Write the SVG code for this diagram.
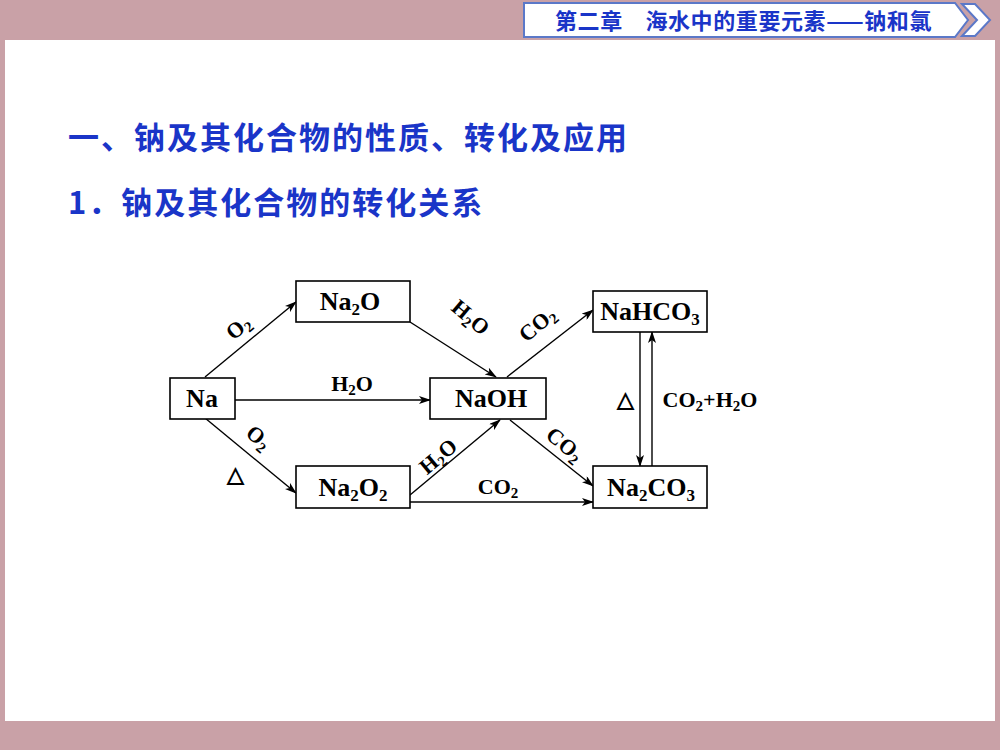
<svg xmlns="http://www.w3.org/2000/svg" width="1000" height="750" viewBox="0 0 1000 750">
<defs>
<marker id="ah" markerWidth="12" markerHeight="8" refX="11" refY="4" orient="auto" markerUnits="userSpaceOnUse"><path d="M0,0 L12,4 L0,8 L3,4 Z" fill="#000"/></marker>
<style>
.box{fill:#fff;stroke:#000;stroke-width:1.6}
.t{font-family:"Liberation Serif","Times New Roman",serif;font-size:26px;font-weight:bold;fill:#000;text-anchor:middle}
.l{font-family:"Liberation Serif","Times New Roman",serif;font-size:22px;font-weight:bold;fill:#000;text-anchor:middle}
.c line{stroke:#000;stroke-width:1.4;marker-end:url(#ah)}
.h{font-family:"Noto Sans CJK SC",sans-serif;font-weight:bold;fill:#1a35c8}
</style>
</defs>
<rect width="1000" height="750" fill="#fff"/>
<rect x="0" y="0" width="1000" height="40" fill="#c9a1a7"/>
<rect x="0" y="0" width="5" height="750" fill="#c9a1a7"/>
<rect x="995" y="0" width="5" height="750" fill="#c9a1a7"/>
<rect x="0" y="721" width="1000" height="29" fill="#c9a1a7"/>
<g id="header">
<path d="M524,3 L955,3 L968,20 L955,37 L524,37 Z" fill="#fff" stroke="#5b78c8" stroke-width="2"/>
<path d="M962,4 L975,4 L990,20 L975,36 L962,36 L977,20 Z" fill="#fff" stroke="#5b78c8" stroke-width="2"/>
<text class="h" x="555" y="29" font-size="22" font-weight="normal" letter-spacing="0.6">第二章　海水中的重要元素——钠和氯</text>
</g>
<text class="h" x="68" y="149" font-size="31" letter-spacing="2">一、钠及其化合物的性质、转化及应用</text>
<text class="h" x="68" y="214" font-size="31" letter-spacing="2">1．钠及其化合物的转化关系</text>
<g class="c" id="connectors">
<line x1="205" y1="377" x2="296" y2="302"/>
<line x1="410" y1="322" x2="496" y2="377"/>
<line x1="507" y1="377" x2="593" y2="310"/>
<line x1="235" y1="400" x2="430" y2="400"/>
<line x1="205" y1="418" x2="296" y2="493"/>
<line x1="410" y1="495" x2="500" y2="420"/>
<line x1="510" y1="420" x2="593" y2="486"/>
<line x1="410" y1="502" x2="593" y2="502"/>
<line x1="640" y1="332" x2="640" y2="466"/>
<line x1="652" y1="466" x2="652" y2="332"/>
</g>
<g id="labels">
<text class="l" transform="translate(243,333) rotate(-40)">O<tspan font-size="15" dy="4">2</tspan></text>
<text class="l" transform="translate(466,323) rotate(40)">H<tspan font-size="15" dy="4">2</tspan><tspan dy="-4">O</tspan></text>
<text class="l" transform="translate(542,330) rotate(-40)">CO<tspan font-size="15" dy="4">2</tspan></text>
<text class="l" x="352" y="391">H<tspan font-size="15" dy="4">2</tspan><tspan dy="-4">O</tspan></text>
<text class="l" transform="translate(254,443) rotate(40)">O<tspan font-size="15" dy="4">2</tspan></text>
<text class="l" x="235" y="482">△</text>
<text class="l" transform="translate(443,462) rotate(-40)">H<tspan font-size="15" dy="4">2</tspan><tspan dy="-4">O</tspan></text>
<text class="l" transform="translate(560,450) rotate(40)">CO<tspan font-size="15" dy="4">2</tspan></text>
<text class="l" x="498" y="494">CO<tspan font-size="15" dy="4">2</tspan></text>
<text class="l" x="625" y="407">△</text>
<text class="l" x="710" y="407">CO<tspan font-size="15" dy="4">2</tspan><tspan dy="-4">+H</tspan><tspan font-size="15" dy="4">2</tspan><tspan dy="-4">O</tspan></text>
</g>
<g id="Na"><rect class="box" x="170" y="378" width="65" height="41"/><text class="t" x="202" y="407">Na</text></g>
<g id="Na2O"><rect class="box" x="296" y="281" width="114" height="41"/><text class="t" x="350" y="310">Na<tspan font-size="17" dy="5">2</tspan><tspan dy="-5">O</tspan></text></g>
<g id="NaOH"><rect class="box" x="430" y="378" width="116" height="41"/><text class="t" x="491" y="407">NaOH</text></g>
<g id="NaHCO3"><rect class="box" x="593" y="291" width="114" height="41"/><text class="t" x="650" y="320">NaHCO<tspan font-size="17" dy="5">3</tspan></text></g>
<g id="Na2O2"><rect class="box" x="296" y="466" width="114" height="42"/><text class="t" x="353" y="496">Na<tspan font-size="17" dy="5">2</tspan><tspan dy="-5">O</tspan><tspan font-size="17" dy="5">2</tspan></text></g>
<g id="Na2CO3"><rect class="box" x="593" y="466" width="114" height="42"/><text class="t" x="651" y="496">Na<tspan font-size="17" dy="5">2</tspan><tspan dy="-5">CO</tspan><tspan font-size="17" dy="5">3</tspan></text></g>
</svg>
